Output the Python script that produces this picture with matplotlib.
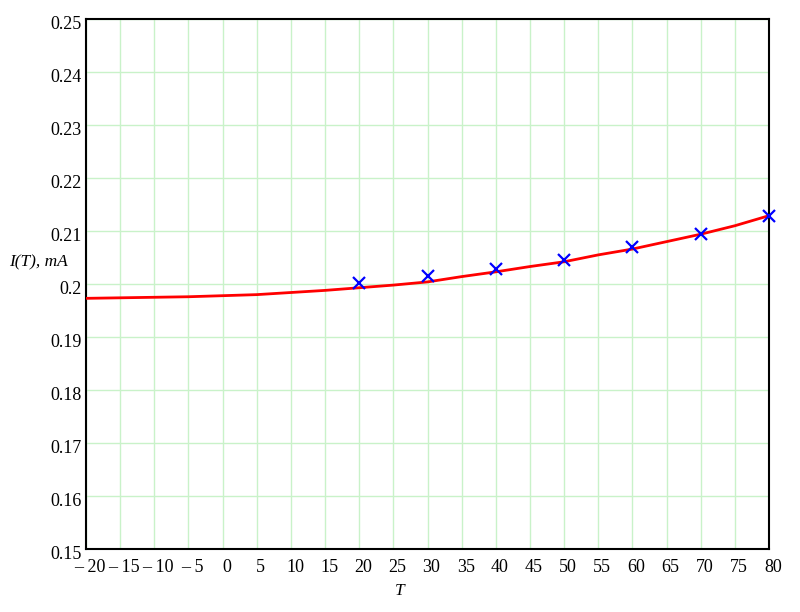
import matplotlib
matplotlib.use("Agg")
import matplotlib.pyplot as plt
import matplotlib.transforms as mtransforms

# measured points
T_meas = [20, 30, 40, 50, 60, 70, 80]
I_meas = [0.2001, 0.2016, 0.2028, 0.2045, 0.2070, 0.2094, 0.2129]

# fitted curve, read at every 5 degrees
T_fit = [-20, -15, -10, -5, 0, 5, 10, 15, 20, 25, 30, 35, 40,
         45, 50, 55, 60, 65, 70, 75, 80]
I_fit = [0.1973, 0.1974, 0.1975, 0.1976, 0.1978, 0.1980, 0.1984,
         0.1988, 0.1993, 0.1998, 0.2004, 0.2014, 0.2023, 0.2033,
         0.2042, 0.2055, 0.2066, 0.2080, 0.2094, 0.2110, 0.2129]

x_ticks = list(range(-20, 85, 5))
x_labels = [("\u2013 %d" % -t) if t < 0 else str(t) for t in x_ticks]
y_ticks = [0.15, 0.16, 0.17, 0.18, 0.19, 0.2, 0.21, 0.22, 0.23, 0.24, 0.25]
y_labels = ["0.15", "0.16", "0.17", "0.18", "0.19", "0.2", "0.21",
            "0.22", "0.23", "0.24", "0.25"]

plt.rcParams["font.family"] = ["Liberation Serif", "DejaVu Serif"]

fig = plt.figure(figsize=(8, 6.12), dpi=100)
ax = fig.add_axes([0.1075, 0.1029, 0.8538, 0.866])

ax.plot(T_fit, I_fit, color="red", lw=2, zorder=3)
ax.plot(T_meas, I_meas, ls="none", marker="x", color="blue",
        markersize=9, mew=1.6, zorder=4, clip_on=False)

ax.set_xlim(-20, 80)
ax.set_ylim(0.15, 0.25)
ax.set_xticks(x_ticks)
ax.set_xticklabels(x_labels, fontsize=13)
ax.set_yticks(y_ticks)
ax.set_yticklabels(y_labels, fontsize=13)
ax.tick_params(length=0)
ax.tick_params(axis="x", pad=7)
ax.tick_params(axis="y", pad=3)

# Mathcad puts its x labels a little to the right, y labels a bit lower
offset_x = mtransforms.ScaledTranslation(4 / 100, 0, fig.dpi_scale_trans)
for lbl in ax.get_xticklabels():
    lbl.set_transform(lbl.get_transform() + offset_x)
offset_y = mtransforms.ScaledTranslation(0, -3 / 100, fig.dpi_scale_trans)
for lbl in ax.get_yticklabels():
    lbl.set_transform(lbl.get_transform() + offset_y)

ax.grid(True, color="#c9f2c9", lw=1)
ax.set_axisbelow(True)
for s in ax.spines.values():
    s.set_color("black")
    s.set_linewidth(1.5)

fig.text(9 / 800, 1 - 262 / 612, "I(T), mA", fontsize=12.5, style="italic",
         ha="left", va="center")
fig.text(400 / 800, 1 - 591 / 612, "T", fontsize=12.5, style="italic",
         ha="center", va="center")

fig.savefig("out.png", dpi=100)
